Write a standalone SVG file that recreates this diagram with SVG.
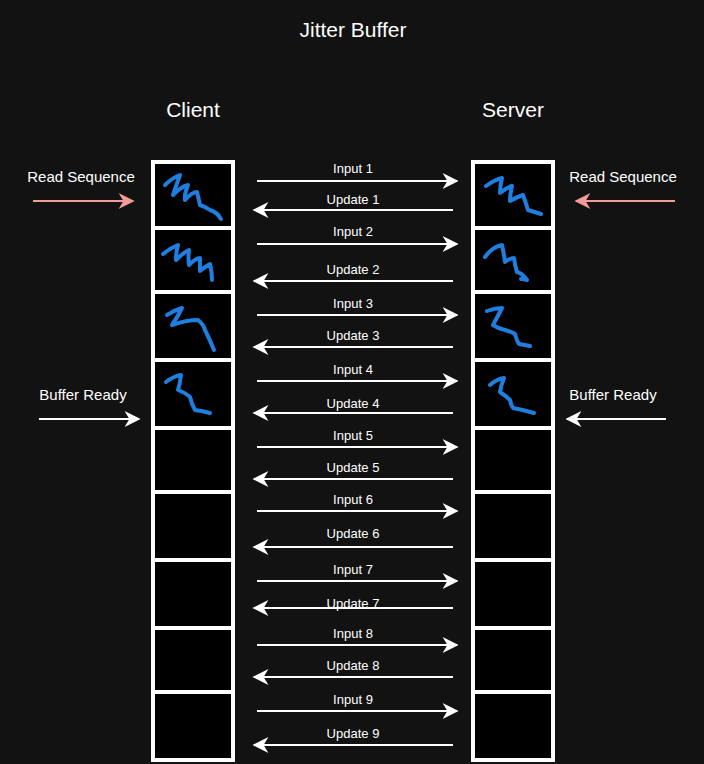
<svg xmlns="http://www.w3.org/2000/svg" width="704" height="764" viewBox="0 0 704 764">
<style>
text{font-family:"Liberation Sans",Arial,sans-serif;fill:#fff}
.l{font-size:13px;text-anchor:middle}
.s{font-size:15px;text-anchor:middle}
.t{font-size:21px;text-anchor:middle}
.c{fill:#000;stroke:#fff;stroke-width:4}
.a{stroke:#fff;stroke-width:2;fill:none}
.r{stroke:#F19C99;stroke-width:2;fill:none}
.q{stroke:#1E7FE0;stroke-width:4;fill:none;stroke-linecap:round;stroke-linejoin:round}
</style>
<defs>
<marker id="mw" viewBox="0 0 10 10" refX="9" refY="5" markerWidth="18" markerHeight="16" markerUnits="userSpaceOnUse" orient="auto"><path d="M0,0 L10,5 L0,10 L3,5 Z" fill="#fff"/></marker>
<marker id="mr" viewBox="0 0 10 10" refX="9" refY="5" markerWidth="18" markerHeight="16" markerUnits="userSpaceOnUse" orient="auto"><path d="M0,0 L10,5 L0,10 L3,5 Z" fill="#F19C99"/></marker>
</defs>
<rect width="704" height="764" fill="#121212"/>
<text x="353" y="37" class="t">Jitter Buffer</text>
<text x="193" y="117" class="t">Client</text>
<text x="513" y="117" class="t">Server</text>
<g id="client">
<rect class="c" x="153" y="162" width="80" height="66"/>
<rect class="c" x="153" y="228" width="80" height="64"/>
<rect class="c" x="153" y="292" width="80" height="68"/>
<rect class="c" x="153" y="360" width="80" height="68"/>
<rect class="c" x="153" y="428" width="80" height="64"/>
<rect class="c" x="153" y="492" width="80" height="68"/>
<rect class="c" x="153" y="560" width="80" height="68"/>
<rect class="c" x="153" y="628" width="80" height="64"/>
<rect class="c" x="153" y="692" width="80" height="68"/>
</g>
<g id="server">
<rect class="c" x="473" y="162" width="80" height="66"/>
<rect class="c" x="473" y="228" width="80" height="64"/>
<rect class="c" x="473" y="292" width="80" height="68"/>
<rect class="c" x="473" y="360" width="80" height="68"/>
<rect class="c" x="473" y="428" width="80" height="64"/>
<rect class="c" x="473" y="492" width="80" height="68"/>
<rect class="c" x="473" y="560" width="80" height="68"/>
<rect class="c" x="473" y="628" width="80" height="64"/>
<rect class="c" x="473" y="692" width="80" height="68"/>
</g>
<g id="scribbles">
<path class="q" d="M165,185 Q172,178 180,175 Q176,186 173,195 Q182,186 188,185 Q184,195 185,200 Q192,192 197,192 Q199,200 200,205 Q206,207 210,210 Q217,212 221,219"/>
<path class="q" d="M163,254 Q170,248 178,245 Q176,252 176,260 Q184,252 189,250 Q188,258 189,265 Q196,258 200,258 Q200,265 200,271 Q206,266 210,264 Q212,272 212,280"/>
<path class="q" d="M167,315 Q175,310 182,308 Q177,318 172,325 Q186,320 198,320 Q204,325 205,330 Q210,340 214,350"/>
<path class="q" d="M166,382 Q174,376 181,375 Q180,384 178,390 Q186,393 190,397 Q192,405 195,410 Q203,411 210,413"/>
<path class="q" d="M486,186 Q494,180 502,178 Q500,186 500,193 Q506,188 512,186 Q510,194 510,201 Q517,197 523,195 Q526,203 528,210 Q535,212 541,214"/>
<path class="q" d="M485,257 Q492,247 502,245 Q504,254 505,262 Q510,258 514,258 Q515,266 517,272 Q522,273 527,280 Q524,279 521,279"/>
<path class="q" d="M487,311 Q495,308 502,308 Q498,316 493,325 Q499,329 505,330 Q512,332 515,334 Q517,341 519,344 Q525,345 530,346"/>
<path class="q" d="M490,385 Q497,379 504,378 Q501,385 500,392 Q506,396 510,400 Q511,405 513,408 Q524,410 534,413"/>
</g>
<g id="connectors">
<line class="r" x1="33" y1="201" x2="133" y2="201" marker-end="url(#mr)"/>
<line class="r" x1="675" y1="201" x2="576" y2="201" marker-end="url(#mr)"/>
<line class="a" x1="39" y1="419" x2="139" y2="419" marker-end="url(#mw)"/>
<line class="a" x1="666" y1="419" x2="567" y2="419" marker-end="url(#mw)"/>
<line class="a" x1="257" y1="181" x2="457" y2="181" marker-end="url(#mw)"/>
<line class="a" x1="453" y1="210" x2="254" y2="210" marker-end="url(#mw)"/>
<line class="a" x1="257" y1="244" x2="457" y2="244" marker-end="url(#mw)"/>
<line class="a" x1="453" y1="281" x2="254" y2="281" marker-end="url(#mw)"/>
<line class="a" x1="257" y1="315" x2="457" y2="315" marker-end="url(#mw)"/>
<line class="a" x1="453" y1="347" x2="254" y2="347" marker-end="url(#mw)"/>
<line class="a" x1="257" y1="381" x2="457" y2="381" marker-end="url(#mw)"/>
<line class="a" x1="453" y1="413" x2="254" y2="413" marker-end="url(#mw)"/>
<line class="a" x1="257" y1="447" x2="457" y2="447" marker-end="url(#mw)"/>
<line class="a" x1="453" y1="479" x2="254" y2="479" marker-end="url(#mw)"/>
<line class="a" x1="257" y1="511" x2="457" y2="511" marker-end="url(#mw)"/>
<line class="a" x1="453" y1="547" x2="254" y2="547" marker-end="url(#mw)"/>
<line class="a" x1="257" y1="581" x2="457" y2="581" marker-end="url(#mw)"/>
<line class="a" x1="453" y1="608" x2="254" y2="608" marker-end="url(#mw)"/>
<line class="a" x1="257" y1="645" x2="457" y2="645" marker-end="url(#mw)"/>
<line class="a" x1="453" y1="677" x2="254" y2="677" marker-end="url(#mw)"/>
<line class="a" x1="257" y1="711" x2="457" y2="711" marker-end="url(#mw)"/>
<line class="a" x1="453" y1="745" x2="254" y2="745" marker-end="url(#mw)"/>
</g>
<g id="labels">
<text x="81" y="182" class="s">Read Sequence</text>
<text x="623" y="182" class="s">Read Sequence</text>
<text x="83" y="400" class="s">Buffer Ready</text>
<text x="613" y="400" class="s">Buffer Ready</text>
<text x="353" y="173" class="l">Input 1</text>
<text x="353" y="204" class="l">Update 1</text>
<text x="353" y="236" class="l">Input 2</text>
<text x="353" y="274" class="l">Update 2</text>
<text x="353" y="308" class="l">Input 3</text>
<text x="353" y="340" class="l">Update 3</text>
<text x="353" y="374" class="l">Input 4</text>
<text x="353" y="408" class="l">Update 4</text>
<text x="353" y="440" class="l">Input 5</text>
<text x="353" y="472" class="l">Update 5</text>
<text x="353" y="504" class="l">Input 6</text>
<text x="353" y="538" class="l">Update 6</text>
<text x="353" y="574" class="l">Input 7</text>
<text x="353" y="608" class="l">Update 7</text>
<text x="353" y="638" class="l">Input 8</text>
<text x="353" y="670" class="l">Update 8</text>
<text x="353" y="704" class="l">Input 9</text>
<text x="353" y="738" class="l">Update 9</text>
</g>
</svg>
